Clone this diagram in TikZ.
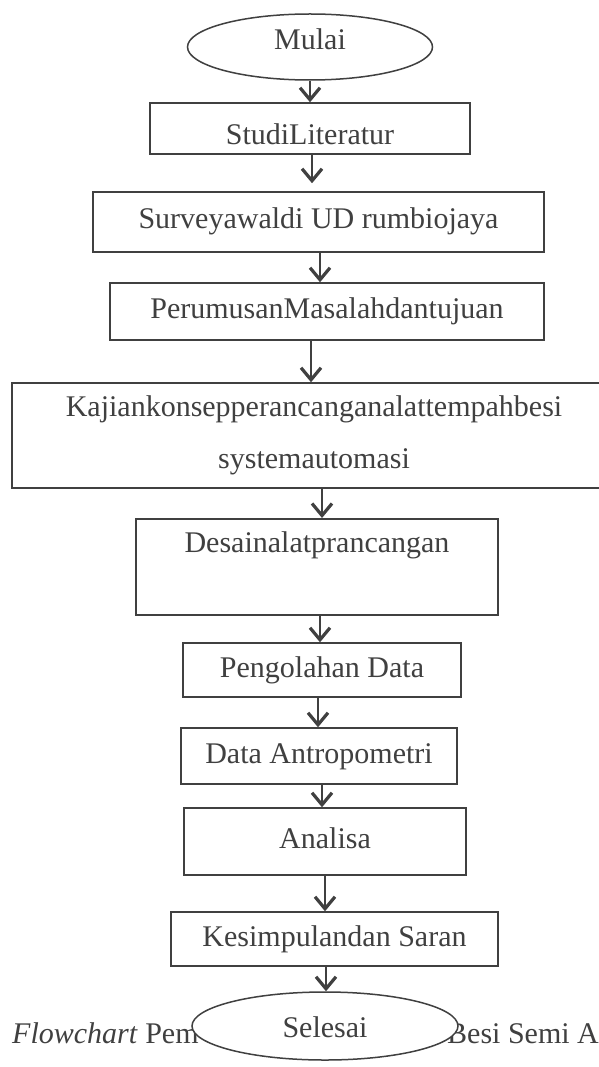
\documentclass[tikz,border=0pt]{standalone}
\usepackage{fontspec}
\setmainfont{Liberation Serif}
\usetikzlibrary{shapes.geometric,arrows.meta}
\definecolor{ink}{HTML}{404040}
\begin{document}
\begin{tikzpicture}[x=1pt,y=-1pt,
  every node/.style={font=\fontsize{30}{36}\selectfont, text=ink},
  box/.style={draw=ink, line width=1.5pt, rectangle, inner sep=0pt},
  onebox/.style={box, text height=21pt, text depth=7pt},
  term/.style={draw=ink, line width=1.5pt, ellipse, inner sep=0pt, fill=white},
  arr/.style={draw=ink, line width=2.4pt, -{Straight Barb[length=12pt,width=20pt,line width=3.2pt]}}]
\clip (0,0) rectangle (599,1067);
\fill[white] (0,0) rectangle (599,1067);

\node[term, minimum width=245pt, minimum height=66pt, text height=20pt, text depth=14pt] (mulai) at (310,47) {Mulai};
\node[box, minimum width=320pt, minimum height=51pt, text height=33pt, text depth=0pt] (studi) at (310,128.5) {StudiLiteratur};
\node[onebox, minimum width=451pt, minimum height=60pt] (survey) at (318.5,222) {Surveyawaldi UD rumbiojaya};
\node[onebox, minimum width=434pt, minimum height=57pt] (rumus) at (327,311.5) {PerumusanMasalahdantujuan};
\node[box, minimum width=604pt, minimum height=105pt, align=center, font=\fontsize{30}{52}\selectfont] (kajian) at (314,435.5) {Kajiankonsepperancanganalattempahbesi\\systemautomasi};
\node[box, minimum width=362pt, text height=34pt, text depth=62pt, anchor=north] (desain) at (317,518) {Desainalatprancangan};
\node[onebox, minimum width=278pt, minimum height=54pt] (olah) at (322,670) {Pengolahan Data};
\node[onebox, minimum width=276pt, minimum height=56pt] (antro) at (319,756) {Data Antropometri};
\node[onebox, minimum width=282pt, minimum height=67pt] (analisa) at (325,841.5) {Analisa};
\node[onebox, minimum width=327pt, minimum height=54pt] (simpul) at (334.5,939) {Kesimpulandan Saran};

\node[anchor=base west, inner sep=0pt] (capl) at (12,1043) {\textit{Flowchart} Pem};
\node[anchor=base west, inner sep=0pt] (capr) at (447,1043) {Besi Semi A};
\node[term, minimum width=266pt, minimum height=68pt, text height=22pt, text depth=0pt] (selesai) at (325,1026) {Selesai};

\draw[arr] (mulai.south) -- (mulai.south |- studi.north);
\draw[arr, shorten >=8pt] ([xshift=2pt]studi.south) -- ([xshift=2pt]studi.south |- survey.north);
\draw[arr] ([xshift=1.5pt]survey.south) -- ([xshift=1.5pt]survey.south |- rumus.north);
\draw[arr] ([xshift=-16pt]rumus.south) -- ([xshift=-16pt]rumus.south |- kajian.north);
\draw[arr] ([xshift=8pt]kajian.south) -- ([xshift=8pt]kajian.south |- desain.north);
\draw[arr] ([xshift=3pt]desain.south) -- ([xshift=3pt]desain.south |- olah.north);
\draw[arr] ([xshift=-4pt]olah.south) -- ([xshift=-4pt]olah.south |- antro.north);
\draw[arr] ([xshift=3pt]antro.south) -- ([xshift=3pt]antro.south |- analisa.north);
\draw[arr] (analisa.south) -- (analisa.south |- simpul.north);
\draw[arr] ([xshift=-8.5pt]simpul.south) -- ([xshift=-8.5pt]simpul.south |- selesai.north);
\end{tikzpicture}
\end{document}
